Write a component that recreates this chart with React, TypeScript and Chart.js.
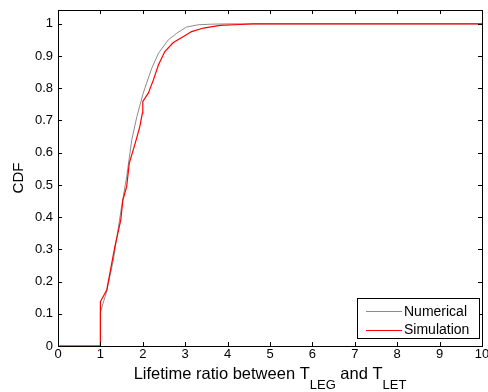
import React, { useEffect, useRef } from "react";
import { Chart, registerables } from "chart.js";

Chart.register(...registerables);

// Numerical CDF (gray)
const numericalX = [0, 1.0, 1.0, 1.15, 1.305, 1.5, 1.62, 1.74, 1.86, 2.01, 2.09, 2.21, 2.37, 2.6, 2.8, 3.03, 3.3, 3.6, 4.0, 10];
const numericalY = [0, 0, 0.105, 0.17, 0.267, 0.433, 0.526, 0.64, 0.712, 0.785, 0.816, 0.862, 0.909, 0.95, 0.971, 0.99, 0.997, 0.999, 1, 1];

// Simulation CDF (red)
const simulationX = [0, 1.0, 1.0, 1.15, 1.34, 1.48, 1.53, 1.62, 1.68, 1.82, 1.93, 1.99, 2.0, 2.13, 2.25, 2.37, 2.52, 2.72, 2.96, 3.15, 3.43, 3.82, 4.3, 4.6, 10];
const simulationY = [0, 0, 0.138, 0.174, 0.308, 0.391, 0.453, 0.495, 0.567, 0.629, 0.681, 0.723, 0.759, 0.785, 0.826, 0.873, 0.914, 0.942, 0.961, 0.976, 0.987, 0.995, 0.998, 1, 1];

const seriesLabels = ["Numerical", "Simulation"];
const seriesColors = ["#8c8c8c", "#ff0000"];

const xTitleParts = [
  { text: "Lifetime ratio between T", sub: false },
  { text: "LEG", sub: true },
  { text: " and T", sub: false },
  { text: "LET", sub: true },
];
const yTitle = "CDF";

const FONT = "'Liberation Sans', Arial, sans-serif";

const toPoints = (xs: number[], ys: number[]) => xs.map((x, i) => ({ x, y: ys[i] }));

const decorPlugin = {
  id: "matlabDecor",
  afterDatasetsDraw(chart: any) {
    const { ctx, chartArea } = chart;
    const { left, right, top, bottom } = chartArea;
    const xs = chart.scales.x;
    const ys = chart.scales.y;
    ctx.save();
    ctx.strokeStyle = "#000";
    ctx.lineWidth = 1;
    // inward ticks
    const tl = 4;
    ctx.beginPath();
    xs.ticks.forEach((t: any) => {
      const px = Math.round(xs.getPixelForValue(t.value)) + 0.5;
      ctx.moveTo(px, bottom);
      ctx.lineTo(px, bottom - tl);
      ctx.moveTo(px, top);
      ctx.lineTo(px, top + tl);
    });
    ys.ticks.forEach((t: any) => {
      const py = Math.round(ys.getPixelForValue(t.value)) + 0.5;
      ctx.moveTo(left, py);
      ctx.lineTo(left + tl, py);
      ctx.moveTo(right, py);
      ctx.lineTo(right - tl, py);
    });
    ctx.stroke();
    // box
    ctx.strokeRect(Math.round(left) + 0.5, Math.round(top) + 0.5, Math.round(right - left), Math.round(bottom - top));

    // legend
    const lx0 = right - 125;
    const lx1 = right - 3;
    const ly0 = bottom - 48;
    const ly1 = bottom - 8;
    ctx.fillStyle = "#fff";
    ctx.fillRect(lx0, ly0, lx1 - lx0, ly1 - ly0);
    ctx.strokeStyle = "#000";
    ctx.strokeRect(Math.round(lx0) + 0.5, Math.round(ly0) + 0.5, Math.round(lx1 - lx0), Math.round(ly1 - ly0));
    ctx.font = "14px " + FONT;
    ctx.textBaseline = "middle";
    ctx.textAlign = "left";
    chart.data.datasets.forEach((ds: any, i: number) => {
      const yy = ly0 + 13 + i * 18.5;
      ctx.strokeStyle = ds.borderColor;
      ctx.lineWidth = 1;
      ctx.beginPath();
      ctx.moveTo(lx0 + 9, Math.round(yy) + 0.5);
      ctx.lineTo(lx0 + 45, Math.round(yy) + 0.5);
      ctx.stroke();
      ctx.fillStyle = "#000";
      ctx.fillText(ds.label, lx0 + 47, yy + 1);
    });

    // x title with subscripts
    const mainFont = "16.5px " + FONT;
    const subFont = "13px " + FONT;
    let total = 0;
    const widths = xTitleParts.map((p) => {
      ctx.font = p.sub ? subFont : mainFont;
      const w = ctx.measureText(p.text).width;
      total += w;
      return w;
    });
    let cx = (left + right) / 2 - total / 2;
    const baseY = bottom + 33;
    ctx.textBaseline = "alphabetic";
    ctx.fillStyle = "#000";
    xTitleParts.forEach((p, i) => {
      ctx.font = p.sub ? subFont : mainFont;
      ctx.fillText(p.text, cx, p.sub ? baseY + 10 : baseY);
      cx += widths[i];
    });

    // y title
    ctx.save();
    ctx.translate(23, (top + bottom) / 2);
    ctx.rotate(-Math.PI / 2);
    ctx.font = "15px " + FONT;
    ctx.textAlign = "center";
    ctx.textBaseline = "alphabetic";
    ctx.fillText(yTitle, 0, 0);
    ctx.restore();

    ctx.restore();
  },
};

export default function App() {
  const ref = useRef<HTMLCanvasElement | null>(null);
  useEffect(() => {
    document.body.style.margin = "0";
    if (!ref.current) return;
    const chart = new Chart(ref.current, {
      type: "line",
      data: {
        datasets: [
          {
            label: seriesLabels[0],
            data: toPoints(numericalX, numericalY),
            borderColor: seriesColors[0],
            backgroundColor: seriesColors[0],
            borderWidth: 1,
            pointRadius: 0,
            tension: 0,
            order: 1,
          },
          {
            label: seriesLabels[1],
            data: toPoints(simulationX, simulationY),
            borderColor: seriesColors[1],
            backgroundColor: seriesColors[1],
            borderWidth: 1.2,
            pointRadius: 0,
            tension: 0,
            order: 0,
          },
        ],
      },
      options: {
        responsive: false,
        animation: false,
        events: [],
        layout: { padding: { top: 10, right: 6, left: 0, bottom: 0 } },
        plugins: {
          legend: { display: false },
          tooltip: { enabled: false },
          title: { display: false },
        },
        scales: {
          x: {
            type: "linear",
            min: 0,
            max: 10,
            grid: { display: false, drawTicks: false },
            border: { display: false },
            ticks: {
              stepSize: 1,
              color: "#000",
              font: { family: FONT, size: 13 },
              padding: 1,
              maxRotation: 0,
              autoSkip: false,
              includeBounds: false,
            },
            afterFit: (s: any) => {
              s.height = 46;
              s.paddingLeft = 0;
              s.paddingRight = 0;
            },
          },
          y: {
            type: "linear",
            min: 0,
            max: 1.043,
            grid: { display: false, drawTicks: false },
            border: { display: false },
            ticks: {
              stepSize: 0.1,
              color: "#000",
              font: { family: FONT, size: 13 },
              padding: 5,
              autoSkip: false,
              includeBounds: false,
              callback: (v: any) => String(Math.round(Number(v) * 10) / 10),
            },
            afterFit: (s: any) => {
              s.width = 58;
              s.paddingTop = 0;
              s.paddingBottom = 0;
            },
          },
        },
      },
      plugins: [decorPlugin],
    } as any);
    return () => chart.destroy();
  }, []);
  return (
    <div style={{ width: 488, height: 392, background: "#fff" }}>
      <canvas ref={ref} width={488} height={392} />
    </div>
  );
}
